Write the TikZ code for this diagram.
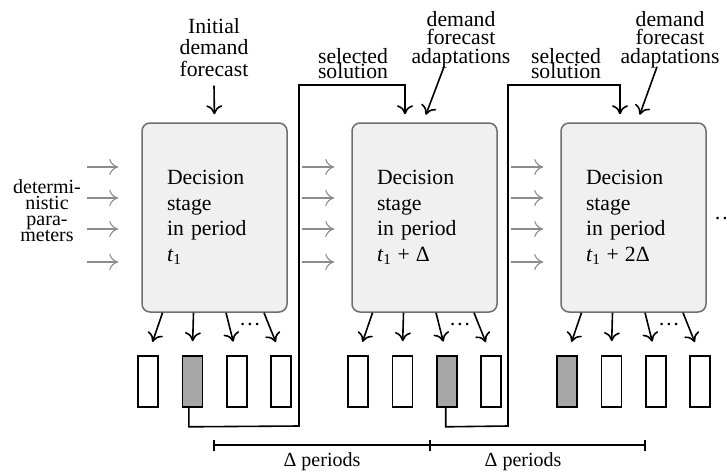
\documentclass[tikz,border=0pt]{standalone}
\usepackage{fontspec}
\setmainfont{Liberation Serif}
\usetikzlibrary{arrows.meta}
\definecolor{boxfill}{HTML}{F0F0F0}
\definecolor{boxgray}{HTML}{6E6E6E}
\definecolor{solgray}{HTML}{A6A6A6}
\definecolor{arrowgray}{HTML}{8C8C8C}
\newcommand{\tsub}[1]{\textit{t}\textsubscript{1}#1}
\begin{document}
\begin{tikzpicture}[x=1pt,y=-1pt,
  lbl/.style={inner sep=0pt, align=center},
  stagebox/.style={draw=boxgray, fill=boxfill, line width=1.5pt, rounded corners=8pt,
    minimum width=145pt, minimum height=189pt, inner xsep=25pt, inner ysep=0pt,
    text width=95pt, align=left, font=\fontsize{21.7}{25.5}\selectfont},
  sol/.style={draw, line width=1.6pt, minimum width=20pt, minimum height=51pt, inner sep=0pt, fill=white},
  solsel/.style={sol, fill=solgray},
  blk/.style={line width=1.6pt, -{Computer Modern Rightarrow[length=9pt,width=16pt,line width=1.6pt]}},
  gar/.style={draw=arrowgray, line width=1.1pt, -{Computer Modern Rightarrow[length=9pt,width=16pt,line width=1.1pt]}},
  dotsnode/.style={inner sep=0pt, font=\fontsize{21.7}{24}\selectfont},
]
\clip (0,0) rectangle (727,474);

% decision stage boxes
\node[stagebox] (b1) at (214.5,217.5) {Decision\\stage\\in period\\\tsub{}};
\node[stagebox] (b2) at (424.5,217.5) {Decision\\stage\\in period\\\tsub{\hspace{0.28em}+\hspace{0.28em}Δ}};
\node[stagebox] (b3) at (633.5,217.5) {Decision\\stage\\in period\\\tsub{\hspace{0.28em}+\hspace{0.28em}2Δ}};

% solution rectangles
\node[sol]    (r11) at ([shift={(-66.5,164)}]b1.center) {};
\node[solsel] (r12) at ([shift={(-22.2,164)}]b1.center) {};
\node[sol]    (r13) at ([shift={(22.2,164)}]b1.center) {};
\node[sol]    (r14) at ([shift={(66.5,164)}]b1.center) {};
\node[sol]    (r21) at ([shift={(-66.5,164)}]b2.center) {};
\node[sol]    (r22) at ([shift={(-22.2,164)}]b2.center) {};
\node[solsel] (r23) at ([shift={(22.2,164)}]b2.center) {};
\node[sol]    (r24) at ([shift={(66.5,164)}]b2.center) {};
\node[solsel] (r31) at ([shift={(-66.5,164)}]b3.center) {};
\node[sol]    (r32) at ([shift={(-22.2,164)}]b3.center) {};
\node[sol]    (r33) at ([shift={(22.2,164)}]b3.center) {};
\node[sol]    (r34) at ([shift={(66.5,164)}]b3.center) {};

% arrows from boxes to solutions
\foreach \b in {1,2,3}{
  \foreach \k/\sx in {1/-52,2/-21,3/11.5,4/49.5}{
    \draw[blk, shorten >=14pt] ([xshift=\sx]b\b.south) -- (r\b\k.north);
  }
  \node[dotsnode] (dots\b) at ([shift={(35.5,12)}]b\b.south) {\ldots};
}

% gray input arrows
\foreach \r in {-50.5,-19.5,11.5,44.5}{
  \draw[gar] ([shift={(-54,\r)}]b1.west) -- ([shift={(-23,\r)}]b1.west);
  \draw[gar] ([shift={(-49,\r)}]b2.west) -- ([shift={(-17,\r)}]b2.west);
  \draw[gar] ([shift={(-49,\r)}]b3.west) -- ([shift={(-17,\r)}]b3.west);
}

% labels
\node[lbl, anchor=north, font=\fontsize{20}{16}\selectfont] (det) at (47,179.3)
  {determi-\\nistic\\para-\\meters};
\node[lbl, anchor=north, font=\fontsize{21.7}{21.5}\selectfont] (init) at (214,17.9)
  {Initial\\demand\\forecast};
\node[lbl, anchor=north, font=\fontsize{21.7}{18.5}\selectfont] (ad1) at (461,11.2)
  {demand\\forecast\\adaptations};
\node[lbl, anchor=north, font=\fontsize{21.7}{18.5}\selectfont] (ad2) at (670,11.2)
  {demand\\forecast\\adaptations};
\node[lbl, anchor=north, font=\fontsize{21.7}{15.5}\selectfont] (ss1) at (353,47.9)
  {selected\\solution};
\node[lbl, anchor=north, font=\fontsize{21.7}{15.5}\selectfont] (ss2) at (566,47.9)
  {selected\\solution};
\node[dotsnode, anchor=base west] (more) at (714,219) {\ldots};

% forecast arrows
\draw[blk, shorten >=8pt] ([shift={(0,9)}]init.south) -- (b1.north);
\draw[blk, shorten >=8pt] ([shift={(-17,-1.5)}]ad1.south) -- ([xshift=-1.5]b2.north);
\draw[blk, shorten >=8pt] ([shift={(-13,-1.5)}]ad2.south) -- ([xshift=3.5]b3.north);

% selected solution feedback
\draw[blk, shorten >=8pt] ([xshift=-3.5]r12.south) -- ++(0,19) -- (299,426) -- (299,85)
  -- (405,85) -- ([xshift=-19.5]b2.north);
\draw[blk, shorten >=8pt] ([xshift=-1]r23.south) -- ++(0,19) -- (508,426) -- (508,85)
  -- (620,85) -- ([xshift=-13.5]b3.north);

% period bracket
\draw[line width=1.6pt] (214,445) -- (645,445);
\foreach \tx in {214,430,645}{
  \draw[line width=1.6pt] (\tx,440) -- (\tx,451);
}
\node[inner sep=0pt, anchor=base, font=\fontsize{20}{24}\selectfont] (p1) at (322,466) {Δ periods};
\node[inner sep=0pt, anchor=base, font=\fontsize{20}{24}\selectfont] (p2) at (523,466) {Δ periods};
\end{tikzpicture}
\end{document}
